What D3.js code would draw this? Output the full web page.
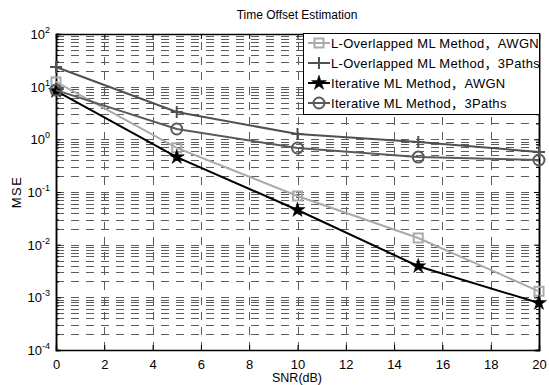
<!DOCTYPE html>
<html>
<head>
<meta charset="utf-8">
<script src="https://cdn.jsdelivr.net/npm/d3@7"></script>
<style>
  body { margin: 0; background: #fff; }
  svg { font-family: "Liberation Sans", "Noto Sans CJK SC", Arial, sans-serif; }
</style>
</head>
<body>
<svg id="chart" width="549" height="385"></svg>
<script>
// data
const snr = [0, 5, 10, 15, 20];
const lovAwgn = [12.3, 0.69, 0.084, 0.0134, 0.0013];
const lov3Paths = [23.6, 3.3, 1.26, 0.89, 0.575];
const iterAwgn = [8.3, 0.46, 0.0455, 0.0039, 0.00078];
const iter3Paths = [8.6, 1.57, 0.685, 0.46, 0.405];
const xTicks = [0, 2, 4, 6, 8, 10, 12, 14, 16, 18, 20];
const yDecades = [-4, -3, -2, -1, 0, 1, 2];
const seriesNames = [
  "L-Overlapped ML Method，AWGN",
  "L-Overlapped ML Method，3Paths",
  "Iterative ML Method，AWGN",
  "Iterative ML Method，3Paths"
];

const mLeft = 56, mRight = 539, mTop = 34, mBottom = 350;
const svg = d3.select("#chart");

const x = d3.scaleLinear().domain([0, 20]).range([mLeft, mRight]);
const y = d3.scaleLog().domain([1e-4, 1e2]).range([mBottom, mTop]);

// minor values for the log grid
let minorVals = [];
yDecades.slice(0, -1).forEach(e => {
  for (let k = 2; k <= 9; k++) minorVals.push(k * Math.pow(10, e));
});
const majorVals = yDecades.map(e => Math.pow(10, e));

// grid
const grid = svg.append("g").attr("stroke", "#5c5c5c").attr("stroke-width", 1)
  .attr("stroke-dasharray", "8,7");
grid.selectAll(".hg").data(minorVals.concat(majorVals.slice(1, -1))).enter().append("line")
  .attr("x1", mLeft).attr("x2", mRight)
  .attr("y1", d => Math.round(y(d)) + 0.5).attr("y2", d => Math.round(y(d)) + 0.5);
grid.selectAll(".vg").data(xTicks.slice(1, -1)).enter().append("line")
  .attr("y1", mBottom).attr("y2", mTop)
  .attr("x1", d => Math.round(x(d)) + 0.5).attr("x2", d => Math.round(x(d)) + 0.5);

// axes with inward ticks
const axB = svg.append("g").attr("transform", `translate(0,${mBottom})`)
  .call(d3.axisBottom(x).tickValues(xTicks).tickSize(-5).tickPadding(10).tickFormat(d3.format("d")));
const axT = svg.append("g").attr("transform", `translate(0,${mTop})`)
  .call(d3.axisTop(x).tickValues(xTicks).tickSize(-5).tickFormat(""));
const axL = svg.append("g").attr("transform", `translate(${mLeft},0)`)
  .call(d3.axisLeft(y).tickValues(majorVals).tickSize(-5).tickFormat(""));
const axR = svg.append("g").attr("transform", `translate(${mRight},0)`)
  .call(d3.axisRight(y).tickValues(majorVals).tickSize(-5).tickFormat(""));
const axLm = svg.append("g").attr("transform", `translate(${mLeft},0)`)
  .call(d3.axisLeft(y).tickValues(minorVals).tickSize(-3).tickFormat(""));
const axRm = svg.append("g").attr("transform", `translate(${mRight},0)`)
  .call(d3.axisRight(y).tickValues(minorVals).tickSize(-3).tickFormat(""));

[axB, axT, axL, axR, axLm, axRm].forEach(a => {
  a.selectAll(".domain").attr("stroke", "#000").attr("stroke-width", 1.5);
  a.selectAll(".tick line").attr("stroke", "#000");
});
axB.selectAll("text").attr("font-size", 13).attr("fill", "#000")
  .attr("font-family", "Liberation Sans, Arial, sans-serif");

// y labels 10^n
const yl = svg.append("g").attr("font-size", 13).attr("fill", "#000");
yDecades.forEach(e => {
  const t = yl.append("text").attr("x", mLeft - 6).attr("y", y(Math.pow(10, e)) + 5)
    .attr("text-anchor", "end");
  t.append("tspan").text("10");
  t.append("tspan").attr("font-size", 9).attr("dy", -6).text(e);
});

// titles
svg.append("text").attr("x", 297).attr("y", 19).attr("text-anchor", "middle")
  .attr("font-size", 12).text("Time Offset Estimation");
svg.append("text").attr("x", 297).attr("y", 382).attr("text-anchor", "middle")
  .attr("font-size", 12.5).text("SNR(dB)");
svg.append("text").attr("transform", "translate(21,192) rotate(-90)")
  .attr("text-anchor", "middle").attr("font-size", 13).attr("letter-spacing", 1.5).text("MSE");

// series
const series = [
  { vals: lovAwgn, color: "#aaaaaa", marker: "square" },
  { vals: lov3Paths, color: "#505050", marker: "plus" },
  { vals: iterAwgn, color: "#000000", marker: "star" },
  { vals: iter3Paths, color: "#5a5a5a", marker: "circle" }
];

function drawMarker(g, type, color) {
  if (type === "square") {
    g.append("rect").attr("x", -4.5).attr("y", -4.5).attr("width", 9).attr("height", 9)
      .attr("fill", "none").attr("stroke", color).attr("stroke-width", 2);
  } else if (type === "plus") {
    g.append("path").attr("d", "M-6,0H6M0,-6V6").attr("stroke", color).attr("stroke-width", 2);
  } else if (type === "star") {
    g.append("path").attr("d", d3.symbol(d3.symbolStar, 70)())
      .attr("fill", color).attr("stroke", color).attr("stroke-width", 0.5);
  } else {
    g.append("circle").attr("r", 5.5).attr("fill", "none")
      .attr("stroke", color).attr("stroke-width", 2);
  }
}

const line = d3.line().x(d => x(d[0])).y(d => y(d[1]));
const plot = svg.append("g");
series.forEach(s => {
  const pts = snr.map((v, i) => [v, s.vals[i]]);
  plot.append("path").datum(pts).attr("d", line).attr("fill", "none")
    .attr("stroke", s.color).attr("stroke-width", 2);
  pts.forEach(p => {
    const g = plot.append("g").attr("transform", `translate(${x(p[0])},${y(p[1])})`);
    drawMarker(g, s.marker, s.color);
  });
});

// legend
const lg = svg.append("g");
lg.append("rect").attr("x", 303.5).attr("y", 33.5).attr("width", 236).attr("height", 81)
  .attr("fill", "#fff").attr("stroke", "#000").attr("stroke-width", 1);
series.forEach((s, i) => {
  const cy = 43 + i * 20;
  lg.append("line").attr("x1", 308).attr("x2", 330).attr("y1", cy).attr("y2", cy)
    .attr("stroke", s.color).attr("stroke-width", 2);
  drawMarker(lg.append("g").attr("transform", `translate(319,${cy})`), s.marker, s.color);
  lg.append("text").attr("x", 331).attr("y", cy + 5).attr("font-size", 13)
    .attr("letter-spacing", 0.3).text(seriesNames[i]);
});
</script>
</body>
</html>
